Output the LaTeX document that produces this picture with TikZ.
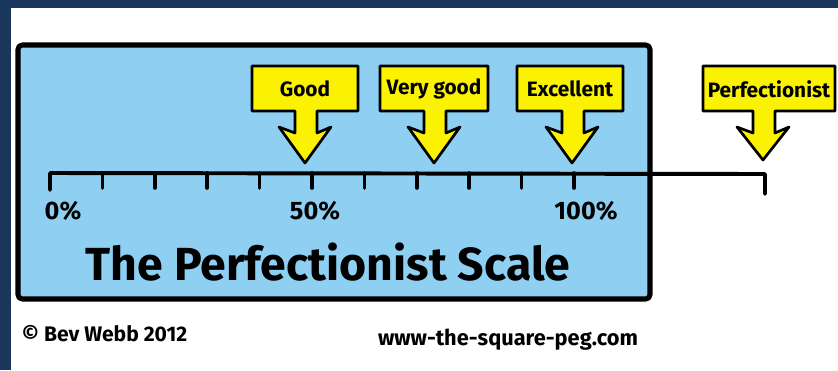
\documentclass[tikz,border=0pt]{standalone}
\usepackage{fontspec}
\setmainfont{Fira Sans}
\definecolor{marco}{HTML}{1B365D}
\definecolor{cielo}{HTML}{8ECFF2}
\definecolor{amarillo}{HTML}{FAF200}

\begin{document}
\begin{tikzpicture}[x=0.025cm, y=-0.025cm, line join=round, line cap=round]
  \useasboundingbox (0,0) rectangle (838,370);

  % Marco oscuro (izquierda y arriba)
  \fill[marco] (0,0) rectangle (11,370);
  \fill[marco] (0,0) rectangle (838,8);

  % Caja azul de fondo
  \draw[fill=cielo, line width=3.6pt, rounded corners=3pt] (18,45) rectangle (650,299);

  % Eje de la escala con sus marcas
  \draw[line width=2.8pt] (50,190) -- (50,173) -- (765,174) -- (765,194);
  \foreach \i in {1,...,10} \draw[line width=2.6pt] ({50+52.4*\i},173) -- ++(0,15);

  \node[font=\bfseries\fontsize{18}{22}\selectfont] (cero) at (63,211) {0\%};
  \node[font=\bfseries\fontsize{18}{22}\selectfont] (mitad) at (315,211) {50\%};
  \node[font=\bfseries\fontsize{18}{22}\selectfont] (cien) at (586,211) {100\%};

  % Carteles amarillos con flecha hacia el eje
  \foreach \nombre/\texto/\izq/\der/\punta/\pie in
      {bueno/Good/252/358/305/163, muybueno/Very good/380/488/434/163,
       excelente/Excellent/517/623/572/163, perfecto/Perfectionist/703/835/763/160}
  {
    \draw[fill=amarillo, line width=1.9pt]
      (\izq,66) -- (\der,66) -- (\der,111) -- (\punta+12,111) -- (\punta+12,133)
      -- (\punta+26,127) -- (\punta,\pie) -- (\punta-26,127) -- (\punta-10,133)
      -- (\punta-10,111) -- (\izq,111) -- cycle;
    \node[font=\bfseries\fontsize{14.8}{17}\selectfont] (\nombre) at ({(\izq+\der)/2},89) {\texto};
  }

  % Titulo
  \node[font=\bfseries\fontsize{33}{38}\selectfont] (titulo) at (328,262) {The Perfectionist Scale};

  % Pie
  \node[font=\bfseries\fontsize{15}{17}\selectfont, anchor=west] (autor) at (17,334) {© Bev Webb 2012};
  \node[font=\bfseries\fontsize{15.5}{17}\selectfont] (web) at (508,340) {www-the-square-peg.com};
\end{tikzpicture}
\end{document}
